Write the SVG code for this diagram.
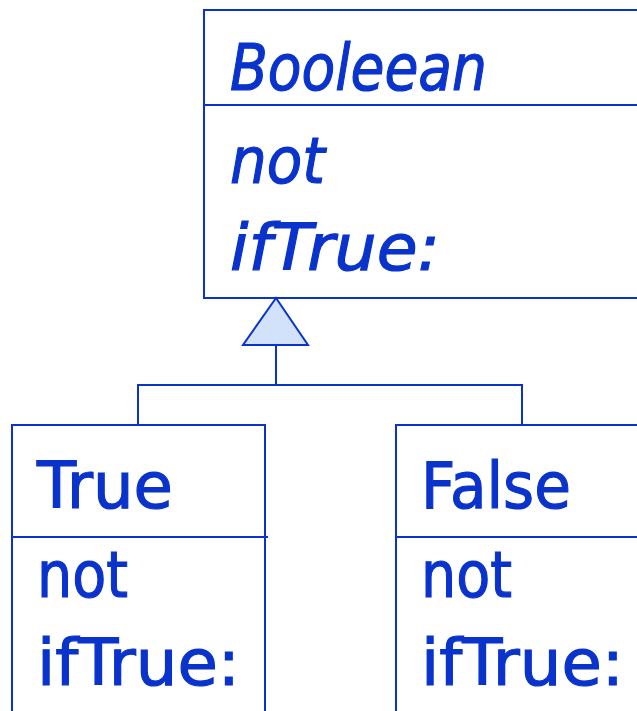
<svg xmlns="http://www.w3.org/2000/svg" width="637" height="711" viewBox="0 0 637 711">
<style>
.box{fill:#fff;stroke:#0a33cc;stroke-width:2}
.ln{fill:none;stroke:#0a33cc;stroke-width:2}
.t{font-family:"DejaVu Sans","Liberation Sans",sans-serif;font-size:64px;fill:#0a33cc;stroke:#0a33cc;stroke-width:1.2}
.i{font-style:italic}
</style>
<rect width="637" height="711" fill="#fff"/>
<g id="Booleean">
<rect class="box" x="204" y="10" width="450" height="288"/>
<line class="ln" x1="204" y1="105" x2="637" y2="105"/>
<text class="t i" x="230" y="90" textLength="257" lengthAdjust="spacingAndGlyphs">Booleean</text>
<text class="t i" x="230" y="183" textLength="95" lengthAdjust="spacingAndGlyphs">not</text>
<text class="t i" x="230" y="270" textLength="210" lengthAdjust="spacingAndGlyphs">ifTrue:</text>
</g>
<g id="True">
<rect class="box" x="12" y="425" width="253" height="300"/>
<line class="ln" x1="12" y1="537" x2="268" y2="537"/>
<text class="t" x="37" y="508" textLength="136" lengthAdjust="spacingAndGlyphs">True</text>
<text class="t" x="37" y="597" textLength="91" lengthAdjust="spacingAndGlyphs">not</text>
<text class="t" x="37" y="685" textLength="203" lengthAdjust="spacingAndGlyphs">ifTrue:</text>
</g>
<g id="False">
<rect class="box" x="396" y="425" width="260" height="300"/>
<line class="ln" x1="396" y1="537" x2="637" y2="537"/>
<text class="t" x="421" y="508" textLength="150" lengthAdjust="spacingAndGlyphs">False</text>
<text class="t" x="421" y="597" textLength="91" lengthAdjust="spacingAndGlyphs">not</text>
<text class="t" x="421" y="685" textLength="203" lengthAdjust="spacingAndGlyphs">ifTrue:</text>
</g>
<g id="connectors">
<polyline class="ln" points="138,425 138,385 522,385 522,425"/>
<line class="ln" x1="276" y1="345" x2="276" y2="385"/>
<polygon points="276,298 243,345 308,345" fill="#d2e2fa" stroke="#0a33cc" stroke-width="2"/>
</g>
</svg>
